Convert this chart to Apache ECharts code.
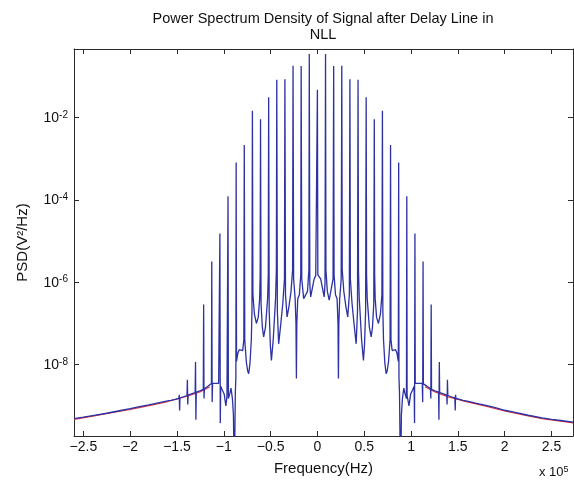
<!DOCTYPE html>
<html><head><meta charset="utf-8">
<script src="https://cdn.jsdelivr.net/npm/echarts@6/dist/echarts.min.js"></script>
<style>html,body{margin:0;padding:0;background:#fff}#c{width:574px;height:483px}</style>
</head><body><div id="c"></div>
<script>
// ---------------- data ----------------
const titleLines = ['Power Spectrum Density of Signal after Delay Line in', 'NLL'];
const xAxisName = 'Frequency(Hz)';
const yAxisName = 'PSD(V\u00B2/Hz)';
const xTickValues = [-250000, -200000, -150000, -100000, -50000, 0, 50000, 100000, 150000, 200000, 250000];
const xTickLabels = ['\u22122.5', '\u22122', '\u22121.5', '\u22121', '\u22120.5', '0', '0.5', '1', '1.5', '2', '2.5'];
const yTickValues = [1e-8, 1e-6, 1e-4, 1e-2];
const yTickExponents = ['-8', '-6', '-4', '-2'];

// measured PSD: [frequency (Hz), PSD (V^2/Hz)]
const measuredPsd = [
  [-260000, 4.9e-10], [-250000, 5.3e-10], [-240000, 5.8e-10], [-225000, 6.6e-10], [-210000, 7.7e-10],
  [-200000, 8.5e-10], [-190000, 9.5e-10], [-180000, 1.05e-9], [-170000, 1.18e-9], [-160000, 1.32e-9],
  [-156600, 1.36e-9], [-156240, 1.5e-9], [-155900, 1.25e-9], [-155500, 1.38e-9], [-152000, 1.43e-9],
  [-148000, 1.52e-9], [-147560, 1.86e-9], [-147200, 7.7e-10], [-146800, 1.56e-9], [-143000, 1.66e-9],
  [-139300, 1.78e-9], [-138880, 4.3e-9], [-138500, 1.08e-9], [-138100, 1.82e-9], [-134500, 1.95e-9],
  [-130600, 2.1e-9], [-130200, 1.16e-8], [-129800, 4.6e-10], [-129400, 2.15e-9], [-125500, 2.3e-9],
  [-121900, 2.5e-9], [-121520, 2.9e-7], [-121150, 1.5e-9], [-120700, 2.6e-9], [-117000, 3.0e-9],
  [-113200, 3.5e-9], [-112840, 3.2e-6], [-112450, 1.23e-9], [-112000, 3.5e-9], [-105500, 3.5e-9],
  [-104500, 3.5e-9], [-104160, 1.53e-5], [-103750, 3.8e-10], [-103300, 3.0e-9], [-101500, 2.4e-9],
  [-99500, 1.9e-9], [-97800, 1.0e-9], [-96600, 1.7e-9], [-95800, 1.8e-9], [-95480, 1.23e-4],
  [-95100, 1.5e-9], [-93500, 2.0e-9], [-92300, 2.7e-9], [-90800, 1.5e-9], [-89700, 6e-10],
  [-88800, 1e-11], [-87700, 2e-9], [-87100, 5e-9], [-86800, 8.1e-4], [-86400, 1.2e-8],
  [-85000, 1.9e-8], [-83500, 2.3e-8], [-81500, 2.45e-8], [-79800, 2.2e-8], [-78600, 4e-8],
  [-78120, 2.14e-3], [-77600, 4e-8], [-76000, 1.2e-8], [-74500, 7e-9], [-73400, 6e-9],
  [-72000, 1.1e-8], [-70600, 4e-8], [-69900, 2e-7], [-69440, 0.0146], [-68900, 5e-7],
  [-67300, 1.7e-7], [-65200, 1.0e-7], [-63200, 1.4e-7], [-61700, 4e-7], [-61150, 1.5e-6],
  [-60760, 0.009], [-60200, 3e-7], [-58800, 8e-8], [-57400, 4.7e-8], [-55500, 8e-8],
  [-53200, 4e-7], [-52500, 1.5e-6], [-52080, 0.031], [-51500, 2e-7], [-50300, 3e-8],
  [-49150, 1.27e-8], [-47200, 4e-8], [-44700, 4e-7], [-43850, 2e-6], [-43400, 0.082],
  [-42800, 2e-7], [-41400, 3.2e-8], [-39500, 8e-8], [-37000, 3e-7], [-35200, 1.2e-6],
  [-34720, 0.085], [-34100, 5e-7], [-32400, 1.44e-7], [-30500, 2.5e-7], [-28200, 6e-7],
  [-26500, 2e-6], [-26040, 0.18], [-25400, 1.2e-6], [-23800, 4e-7], [-22900, 1e-7],
  [-22440, 4.6e-9], [-22000, 1e-7], [-21000, 4e-7], [-19300, 5e-7], [-17800, 1.5e-6],
  [-17360, 0.179], [-16700, 1.2e-6], [-14700, 4e-7], [-12600, 3.7e-7], [-10600, 6e-7],
  [-9100, 2e-6], [-8680, 0.35], [-8100, 9e-7], [-7200, 4.4e-7], [-5500, 7e-7],
  [-3500, 1.2e-6], [-1800, 1.45e-6], [-450, 1.5e-6], [0, 0.047], [450, 1.5e-6],
  [1800, 1.45e-6], [3500, 1.2e-6], [5500, 7e-7], [7200, 4.4e-7], [8100, 9e-7],
  [8680, 0.35], [9100, 2e-6], [10600, 6e-7], [12600, 3.7e-7], [14700, 4e-7],
  [16700, 1.2e-6], [17360, 0.179], [17800, 1.5e-6], [19300, 5e-7], [21000, 4e-7],
  [22000, 1e-7], [22440, 4.6e-9], [22900, 1e-7], [23800, 4e-7], [25400, 1.2e-6],
  [26040, 0.18], [26500, 2e-6], [28200, 6e-7], [30500, 2.5e-7], [32400, 1.44e-7],
  [34100, 5e-7], [34720, 0.085], [35200, 1.2e-6], [37000, 3e-7], [39500, 8e-8],
  [41400, 3.2e-8], [42800, 2e-7], [43400, 0.082], [43850, 2e-6], [44700, 4e-7],
  [47200, 4e-8], [49150, 1.27e-8], [50300, 3e-8], [51500, 2e-7], [52080, 0.031],
  [52500, 1.5e-6], [53200, 4e-7], [55500, 8e-8], [57400, 4.7e-8], [58800, 8e-8],
  [60200, 3e-7], [60760, 0.009], [61150, 1.5e-6], [61700, 4e-7], [63200, 1.4e-7],
  [65200, 1.0e-7], [67300, 1.7e-7], [68900, 5e-7], [69440, 0.0146], [69900, 2e-7],
  [70600, 4e-8], [72000, 1.1e-8], [73400, 6e-9], [74500, 7e-9], [76000, 1.2e-8],
  [77600, 4e-8], [78120, 2.14e-3], [78600, 4e-8], [79800, 2.2e-8], [81500, 2.45e-8],
  [83500, 2.3e-8], [85000, 1.9e-8], [86400, 1.2e-8], [86800, 8.1e-4], [87100, 5e-9],
  [87700, 2e-9], [88800, 1e-11], [89700, 6e-10], [90800, 1.5e-9], [92300, 2.7e-9],
  [93500, 2.0e-9], [95100, 1.5e-9], [95480, 1.23e-4], [95800, 1.8e-9], [96600, 1.7e-9],
  [97800, 1.0e-9], [99500, 1.9e-9], [101500, 2.4e-9], [103300, 3.0e-9], [103750, 3.8e-10],
  [104160, 1.53e-5], [104500, 3.5e-9], [105500, 3.5e-9], [112000, 3.5e-9], [112450, 1.23e-9],
  [112840, 3.2e-6], [113200, 3.4e-9], [117000, 3.0e-9], [120700, 2.6e-9], [121150, 1.5e-9],
  [121520, 2.9e-7], [121900, 2.5e-9], [125500, 2.3e-9], [129400, 2.15e-9], [129800, 4.6e-10],
  [130200, 1.16e-8], [130600, 2.1e-9], [134500, 1.95e-9], [138100, 1.82e-9], [138500, 1.08e-9],
  [138880, 4.3e-9], [139300, 1.78e-9], [143000, 1.66e-9], [146800, 1.56e-9], [147200, 7.7e-10],
  [147560, 1.86e-9], [148000, 1.52e-9], [152000, 1.43e-9], [155500, 1.36e-9], [155900, 1.22e-9],
  [156240, 1.48e-9], [156600, 1.34e-9], [160000, 1.3e-9], [170000, 1.15e-9], [180000, 1.02e-9],
  [190000, 9.0e-10], [200000, 7.8e-10], [210000, 7.0e-10], [225000, 5.9e-10], [240000, 5.1e-10],
  [250000, 4.7e-10], [260000, 4.4e-10], [273000, 4.0e-10]
];

// theoretical envelope (red, visible only under the tails)
const theoryLeft = [
  [-260000, 4.7e-10], [-240000, 5.6e-10], [-220000, 6.8e-10], [-200000, 8.2e-10], [-180000, 1.01e-9],
  [-160000, 1.27e-9], [-140000, 1.68e-9], [-125000, 2.2e-9], [-115000, 2.9e-9]
];
const theoryRight = [
  [115000, 2.9e-9], [125000, 2.2e-9], [140000, 1.65e-9], [160000, 1.25e-9], [180000, 9.8e-10],
  [200000, 7.5e-10], [220000, 6.0e-10], [240000, 4.9e-10], [260000, 4.25e-10], [273000, 3.85e-10]
];

// ---------------- chart ----------------
const FONT = '"Liberation Sans", Arial, Helvetica, sans-serif';
const AX = '#2b2b2b';
const TXT = '#111';
const X_MIN = -260000, X_MAX = 273000;
const Y_MIN = 1.85e-10, Y_MAX = 0.46;

const chart = echarts.init(document.getElementById('c'), null, {renderer: 'canvas'});

function xAxisCfg(pos, showLabels) {
  return {
    type: 'value', position: pos, min: X_MIN, max: X_MAX,
    splitLine: {show: false},
    axisLine: {show: true, onZero: false, lineStyle: {color: AX, width: 1}},
    axisTick: {show: true, inside: true, length: 5, customValues: xTickValues, lineStyle: {color: AX}},
    axisLabel: {
      show: showLabels, customValues: xTickValues, margin: 4,
      fontFamily: FONT, fontSize: 14, color: TXT,
      formatter: function (v) {
        const i = xTickValues.indexOf(Math.round(v));
        return i >= 0 ? xTickLabels[i] : '';
      }
    },
    name: showLabels ? xAxisName : '', nameLocation: 'middle', nameGap: 25,
    nameTextStyle: {fontFamily: FONT, fontSize: 15, color: TXT}
  };
}
function yAxisCfg(pos, showLabels) {
  return {
    type: 'log', logBase: 10, position: pos, min: Y_MIN, max: Y_MAX,
    splitLine: {show: false},
    axisLine: {show: true, onZero: false, lineStyle: {color: AX, width: 1}},
    axisTick: {show: true, inside: true, length: 5, customValues: yTickValues, lineStyle: {color: AX}},
    minorTick: {show: false},
    axisLabel: {
      show: showLabels, customValues: yTickValues, margin: 6,
      formatter: function (v) {
        const e = Math.round(Math.log10(v));
        let best = '';
        for (let i = 0; i < yTickValues.length; i++) {
          if (Math.round(Math.log10(yTickValues[i])) === e) best = yTickExponents[i];
        }
        return '{b|10}{s|' + best + '}';
      },
      rich: {
        b: {fontFamily: FONT, fontSize: 14, color: TXT, lineHeight: 15, verticalAlign: 'bottom'},
        s: {fontFamily: FONT, fontSize: 10, color: TXT, lineHeight: 10, verticalAlign: 'top', padding: [0, 0, 12, 0]}
      }
    },
    name: showLabels ? yAxisName : '', nameLocation: 'middle', nameGap: 44, nameRotate: 90,
    nameTextStyle: {fontFamily: FONT, fontSize: 15, color: TXT}
  };
}

chart.setOption({
  animation: false,
  backgroundColor: '#fff',
  grid: {left: 74, right: 1, top: 49, bottom: 47, containLabel: false, outerBoundsMode: 'none'},
  graphic: [
    {type: 'text', x: 323, y: 19, silent: true,
     style: {text: titleLines[0], align: 'center', verticalAlign: 'middle', fontFamily: FONT, fontSize: 14.5, fill: TXT}},
    {type: 'text', x: 323, y: 35, silent: true,
     style: {text: titleLines[1], align: 'center', verticalAlign: 'middle', fontFamily: FONT, fontSize: 14.5, fill: TXT}},
    {type: 'text', x: 539, y: 472, silent: true,
     style: {text: '{a|x 10}{b|5}', verticalAlign: 'middle', align: 'left',
       rich: {a: {fontFamily: FONT, fontSize: 13, fill: TXT, lineHeight: 14, verticalAlign: 'bottom'},
              b: {fontFamily: FONT, fontSize: 9, fill: TXT, lineHeight: 9, verticalAlign: 'top', padding: [0, 0, 8, 0]}}}}
  ],
  xAxis: [xAxisCfg('bottom', true), xAxisCfg('top', false)],
  yAxis: [yAxisCfg('left', true), yAxisCfg('right', false)],
  series: [
    {type: 'line', name: 'theoryL', data: theoryLeft, xAxisIndex: 0, yAxisIndex: 0, showSymbol: false, symbol: 'none',
     lineStyle: {color: '#e0303a', width: 1.2}, z: 2, clip: true, silent: true},
    {type: 'line', name: 'theoryR', data: theoryRight, xAxisIndex: 0, yAxisIndex: 0, showSymbol: false, symbol: 'none',
     lineStyle: {color: '#e0303a', width: 1.2}, z: 2, clip: true, silent: true},
    {type: 'line', name: 'measured', data: measuredPsd, xAxisIndex: 0, yAxisIndex: 0, showSymbol: false, symbol: 'none',
     lineStyle: {color: '#2c31a3', width: 1.3}, z: 3, clip: true, silent: true}
  ]
});
</script>
</body></html>
